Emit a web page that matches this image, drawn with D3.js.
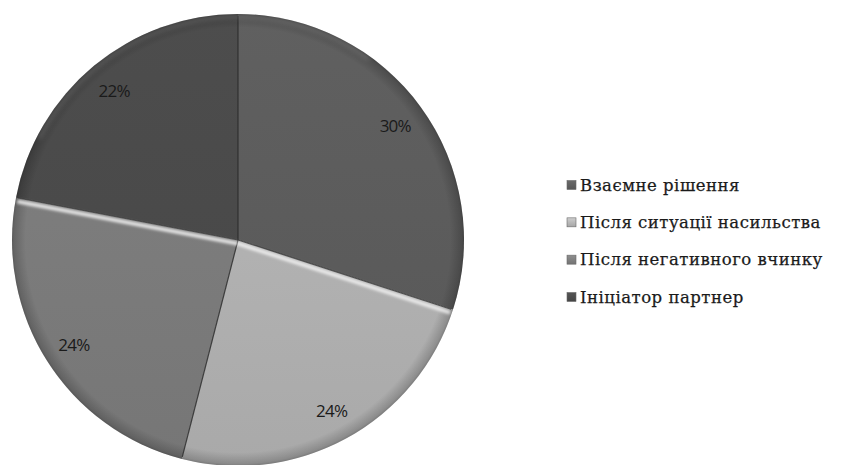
<!DOCTYPE html>
<html>
<head>
<meta charset="utf-8">
<script src="https://cdn.jsdelivr.net/npm/d3@7"></script>
<style>
  html, body { margin: 0; padding: 0; background: #fff; }
  svg { display: block; }
</style>
</head>
<body>
<svg id="chart" width="861" height="465"></svg>
<script>
// Share of relationship endings by reason (percent)
const categories = ["Взаємне рішення", "Після ситуації насильства", "Після негативного вчинку", "Ініціатор партнер"];
const values = [30, 24, 24, 22];
const labels = ["30%", "24%", "24%", "22%"];
const baseColors = ["#5c5c5c", "#b2b2b2", "#7c7c7c", "#4a4a4a"];

const svg = d3.select("#chart");
const cx = 238, cy = 240, R = 226;

const defs = svg.append("defs");

// Soft blur for bevel highlights
defs.append("filter").attr("id", "soft")
  .attr("x", "-20%").attr("y", "-20%").attr("width", "140%").attr("height", "140%")
  .append("feGaussianBlur").attr("stdDeviation", 1.6);
defs.append("filter").attr("id", "rimblur")
  .attr("x", "-10%").attr("y", "-10%").attr("width", "120%").attr("height", "120%")
  .append("feGaussianBlur").attr("stdDeviation", 2.5);

// Per-slice shading: slightly lighter near the top, darker toward the bottom
baseColors.forEach((c, i) => {
  const g = defs.append("linearGradient").attr("id", "sg" + i)
    .attr("gradientUnits", "userSpaceOnUse")
    .attr("x1", 0).attr("y1", -R).attr("x2", 0).attr("y2", R);
  g.append("stop").attr("offset", "0%").attr("stop-color", d3.color(c).brighter(0.12));
  g.append("stop").attr("offset", "100%").attr("stop-color", d3.color(c).darker(0.15));
  const m = defs.append("linearGradient").attr("id", "mg" + i)
    .attr("x1", 0).attr("y1", 0).attr("x2", 0).attr("y2", 1);
  m.append("stop").attr("offset", "0%").attr("stop-color", d3.color(c).brighter(0.4));
  m.append("stop").attr("offset", "100%").attr("stop-color", d3.color(c).darker(0.2));
});

// Rim shading: dark soft edge around the disc
const rim = defs.append("radialGradient").attr("id", "rimg")
  .attr("gradientUnits", "userSpaceOnUse").attr("cx", 0).attr("cy", 0).attr("r", R);
rim.append("stop").attr("offset", "94%").attr("stop-color", "#000").attr("stop-opacity", 0);
rim.append("stop").attr("offset", "99%").attr("stop-color", "#000").attr("stop-opacity", 0.18);
rim.append("stop").attr("offset", "100%").attr("stop-color", "#000").attr("stop-opacity", 0.28);

const pie = d3.pie().sort(null).value(d => d)
  .startAngle(0).endAngle(2 * Math.PI);
const arcs = pie(values);
const arc = d3.arc().innerRadius(0).outerRadius(R);

const g = svg.append("g").attr("transform", `translate(${cx},${cy})`);

g.selectAll("path.slice").data(arcs).join("path")
  .attr("class", "slice")
  .attr("d", arc)
  .attr("fill", (d, i) => `url(#sg${i})`);

// Rim darkening
g.append("circle").attr("r", R).attr("fill", "url(#rimg)");

// Slice boundaries: a thin dark seam, plus a bevel highlight on the lower side of near-horizontal seams
arcs.forEach(d => {
  const a = d.startAngle;
  const ux = Math.sin(a), uy = -Math.cos(a);
  const x2 = ux * (R - 2), y2 = uy * (R - 2);
  g.append("line")
    .attr("x1", 0).attr("y1", 0).attr("x2", x2).attr("y2", y2)
    .attr("stroke", "#2a2a2a").attr("stroke-width", 1.2).attr("stroke-opacity", 0.85);
  const horiz = Math.abs(ux);
  const strength = Math.max(0, (horiz - 0.5) * 2);
  if (strength > 0) {
    // normal pointing downward
    let nx = -uy, ny = ux;
    if (ny < 0) { nx = -nx; ny = -ny; }
    const off = 3.5;
    g.append("line")
      .attr("x1", nx * off).attr("y1", ny * off)
      .attr("x2", x2 + nx * off).attr("y2", y2 + ny * off)
      .attr("stroke", "#ffffff").attr("stroke-width", 3.5)
      .attr("stroke-opacity", 0.9 * strength)
      .attr("filter", "url(#soft)");
  }
});

// Top rim highlight
g.append("path")
  .attr("d", d3.arc().innerRadius(R - 4).outerRadius(R - 1).startAngle(-Math.PI * 0.35).endAngle(Math.PI * 0.2)())
  .attr("fill", "#ffffff").attr("opacity", 0.18).attr("filter", "url(#rimblur)");

// Percent labels
const labelArc = d3.arc().innerRadius(R * 0.86).outerRadius(R * 0.86);
g.selectAll("text.pct").data(arcs).join("text")
  .attr("class", "pct")
  .attr("transform", d => `translate(${labelArc.centroid(d)})`)
  .attr("text-anchor", "middle")
  .attr("dominant-baseline", "central")
  .attr("font-family", "'Open Sans', 'Liberation Sans', sans-serif")
  .attr("font-size", 17)
  .attr("letter-spacing", -0.8)
  .attr("fill", "#1a1a1a")
  .text((d, i) => labels[i]);

// Legend
const legendY = d3.scalePoint().domain(categories).range([185, 297]);
const lg = svg.append("g").attr("transform", "translate(567,0)");
const items = lg.selectAll("g.item").data(categories).join("g")
  .attr("class", "item")
  .attr("transform", d => `translate(0,${legendY(d)})`);
items.append("rect")
  .attr("x", 0).attr("y", -4.5).attr("width", 9).attr("height", 9)
  .attr("fill", (d, i) => `url(#mg${i})`)
  .attr("stroke", "#6a6a6a").attr("stroke-width", 0.6);
items.append("text")
  .attr("x", 13).attr("y", 0)
  .attr("dominant-baseline", "central")
  .attr("font-family", "'DejaVu Serif', serif")
  .attr("font-size", 16.5)
  .attr("letter-spacing", 0.5)
  .attr("fill", "#1a1a1a")
  .attr("stroke", "#1a1a1a").attr("stroke-width", 0.25)
  .text(d => d);
</script>
</body>
</html>
